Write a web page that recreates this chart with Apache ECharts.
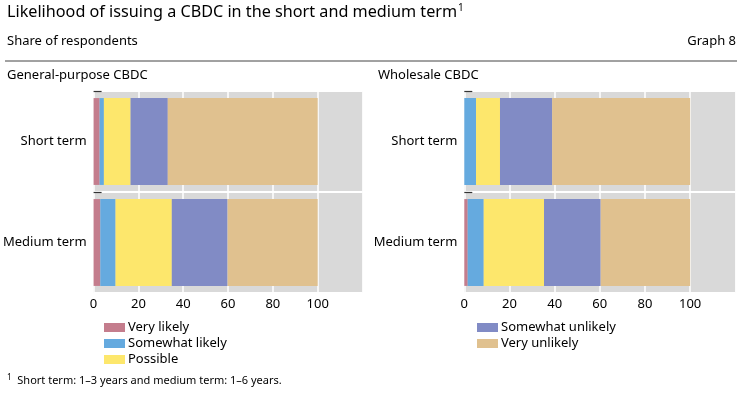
<!DOCTYPE html>
<html><head><meta charset="utf-8">
<script src="https://cdn.jsdelivr.net/npm/echarts@6/dist/echarts.min.js"></script>
<style>html,body{margin:0;padding:0;background:#fff}#c{width:742px;height:395px}</style>
</head><body><div id="c"></div>
<script>
const categories = ['Short term', 'Medium term'];
const seriesNames = ['Very likely', 'Somewhat likely', 'Possible', 'Somewhat unlikely', 'Very unlikely'];
const colors = ['#C47D8D', '#65AADF', '#FDE76C', '#818BC5', '#E0C18F'];
// General-purpose CBDC: [short, medium]
const gpVeryLikely = [2.7, 3.0];
const gpSomewhatLikely = [1.9, 6.8];
const gpPossible = [11.9, 25.1];
const gpSomewhatUnlikely = [16.6, 24.9];
const gpVeryUnlikely = [66.9, 40.2];
// Wholesale CBDC: [short, medium]
const wVeryLikely = [0, 1.5];
const wSomewhatLikely = [5.2, 7.1];
const wPossible = [10.6, 26.7];
const wSomewhatUnlikely = [23.1, 25.1];
const wVeryUnlikely = [61.1, 39.6];
const xTicks = [0, 20, 40, 60, 80, 100];

const FONT = 'Noto Sans';
const gpData = [gpVeryLikely, gpSomewhatLikely, gpPossible, gpSomewhatUnlikely, gpVeryUnlikely];
const wData = [wVeryLikely, wSomewhatLikely, wPossible, wSomewhatUnlikely, wVeryUnlikely];

const grids = [
  {left: 91.5, top: 91, width: 271, height: 202},
  {left: 464.3, top: 91, width: 271, height: 202}
].map(g => Object.assign(g, {show: true, backgroundColor: '#D9D9D9', borderWidth: 0, containLabel: false}));

const xAxes = [0, 1].map(i => ({
  type: 'value', gridIndex: i, min: 0, max: 120, interval: 20, position: 'bottom',
  axisLine: {show: false}, axisTick: {show: false},
  axisLabel: {color: '#000', fontSize: 13, fontFamily: FONT, margin: 5,
    formatter: v => xTicks.indexOf(v) >= 0 ? String(v) : ''},
  splitLine: {show: true, lineStyle: {color: '#fff', width: 1.5}}
}));

const yAxes = [];
[0, 1].forEach(i => {
  yAxes.push({
    type: 'category', gridIndex: i, data: categories, inverse: true, position: 'left',
    axisLine: {show: false}, axisTick: {show: false},
    axisLabel: {color: '#000', fontSize: 13, fontFamily: FONT, margin: 7},
    splitLine: {show: true, lineStyle: {color: '#fff', width: 2}}
  });
});
// helper axes that only draw the short dark boundary ticks (top and middle)
[0, 1].forEach(i => {
  yAxes.push({
    type: 'category', gridIndex: i, data: categories.concat(['']), inverse: true,
    boundaryGap: false, z: 5, position: 'left', offset: 0,
    axisLine: {show: false}, axisLabel: {show: false}, splitLine: {show: false},
    axisTick: {show: true, inside: true, length: 8, interval: idx => idx < categories.length,
      lineStyle: {color: '#333', width: 1.2}}
  });
});

const series = [];
[gpData, wData].forEach((data, gi) => {
  data.forEach((vals, si) => {
    series.push({
      name: seriesNames[si], type: 'bar', stack: 'g' + gi,
      xAxisIndex: gi, yAxisIndex: gi, barWidth: '86%',
      itemStyle: {color: colors[si]}, data: vals, silent: true
    });
  });
});

const legendBase = {
  orient: 'vertical', icon: 'rect', itemWidth: 21, itemHeight: 9, itemGap: 3,
  textStyle: {color: '#000', fontSize: 13, fontFamily: FONT, padding: [0, 0, 0, -2]},
  selectedMode: false, padding: 0
};

const chart = echarts.init(document.getElementById('c'), null, {renderer: 'canvas'});
chart.setOption({
  animation: false,
  color: colors,
  grid: grids,
  xAxis: xAxes,
  yAxis: yAxes,
  series: series,
  legend: [
    Object.assign({}, legendBase, {left: 104, top: 321, data: seriesNames.slice(0, 3)}),
    Object.assign({}, legendBase, {left: 477, top: 321, data: seriesNames.slice(3)})
  ],
  graphic: [
    {type: 'text', left: 7, top: 3, style: {
      text: '{t|Likelihood of issuing a CBDC in the short and medium term}{s|1}',
      rich: {t: {fontSize: 16.2, fontFamily: FONT, fill: '#000'},
             s: {fontSize: 10, fontFamily: FONT, fill: '#000', verticalAlign: 'top', padding: [0, 0, 8, 1]}}}},
    {type: 'text', left: 7, top: 35, style: {text: 'Share of respondents', fontSize: 13, fontFamily: FONT, fill: '#000'}},
    {type: 'text', right: 6, top: 35, style: {text: 'Graph 8', fontSize: 13, fontFamily: FONT, fill: '#000'}},
    {type: 'line', shape: {x1: 5, y1: 61, x2: 737, y2: 61}, style: {stroke: '#444', lineWidth: 1}},
    {type: 'text', left: 7, top: 69, style: {text: 'General-purpose CBDC', fontSize: 13, fontFamily: FONT, fill: '#000'}},
    {type: 'text', left: 378, top: 69, style: {text: 'Wholesale CBDC', fontSize: 13, fontFamily: FONT, fill: '#000'}},
    {type: 'text', left: 7, top: 374, style: {
      text: '{s|1}{t|  Short term: 1–3 years and medium term: 1–6 years.}',
      rich: {t: {fontSize: 11, fontFamily: FONT, fill: '#000'},
             s: {fontSize: 8, fontFamily: FONT, fill: '#000', verticalAlign: 'top', padding: [0, 0, 5, 0]}}}}
  ]
});
</script></body></html>
